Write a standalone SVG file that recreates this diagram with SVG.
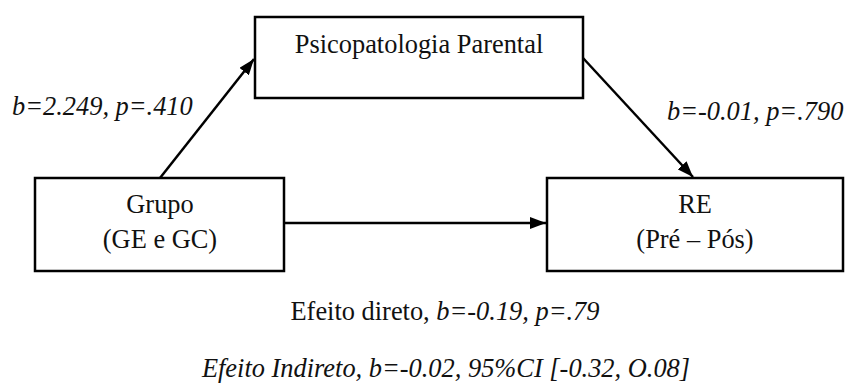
<svg xmlns="http://www.w3.org/2000/svg" width="851" height="389" viewBox="0 0 851 389">
<style>
.box{fill:#fff;stroke:#000;stroke-width:2.5}
.t{font-family:"Liberation Serif","Times New Roman",serif;font-size:26.4px;fill:#111}
.i{font-style:italic}
.c{stroke:#000;stroke-width:2.5;fill:none}
</style>
<defs>
<marker id="ah" viewBox="0 0 16 12" refX="16" refY="6" markerWidth="16" markerHeight="12" markerUnits="userSpaceOnUse" orient="auto">
<path d="M0,0 L16,6 L0,12 z" fill="#000"/>
</marker>
</defs>
<g id="connectors">
<line class="c" x1="160" y1="178" x2="254" y2="59" marker-end="url(#ah)"/>
<line class="c" x1="583" y1="58" x2="693" y2="177" marker-end="url(#ah)"/>
<line class="c" x1="284" y1="223" x2="546" y2="223" marker-end="url(#ah)"/>
</g>
<g id="node-psico">
<rect class="box" x="255" y="17" width="328" height="81"/>
<text class="t" x="419" y="53" text-anchor="middle">Psicopatologia Parental</text>
</g>
<g id="node-grupo">
<rect class="box" x="35" y="178" width="249" height="93"/>
<text class="t" x="160" y="213" text-anchor="middle">Grupo</text>
<text class="t" x="160" y="248" text-anchor="middle">(GE e GC)</text>
</g>
<g id="node-re">
<rect class="box" x="547" y="178" width="296" height="93"/>
<text class="t" x="695" y="213" text-anchor="middle">RE</text>
<text class="t" x="695" y="248" text-anchor="middle">(Pré – Pós)</text>
</g>
<g id="labels">
<text class="t i" x="12" y="115">b=2.249, p=.410</text>
<text class="t i" x="667" y="120">b=-0.01, p=.790</text>
<text class="t" x="445" y="320" text-anchor="middle">Efeito direto, <tspan class="i">b=-0.19, p=.79</tspan></text>
<text class="t i" x="446" y="377" text-anchor="middle">Efeito Indireto, b=-0.02, 95%CI [-0.32, O.08]</text>
</g>
</svg>
